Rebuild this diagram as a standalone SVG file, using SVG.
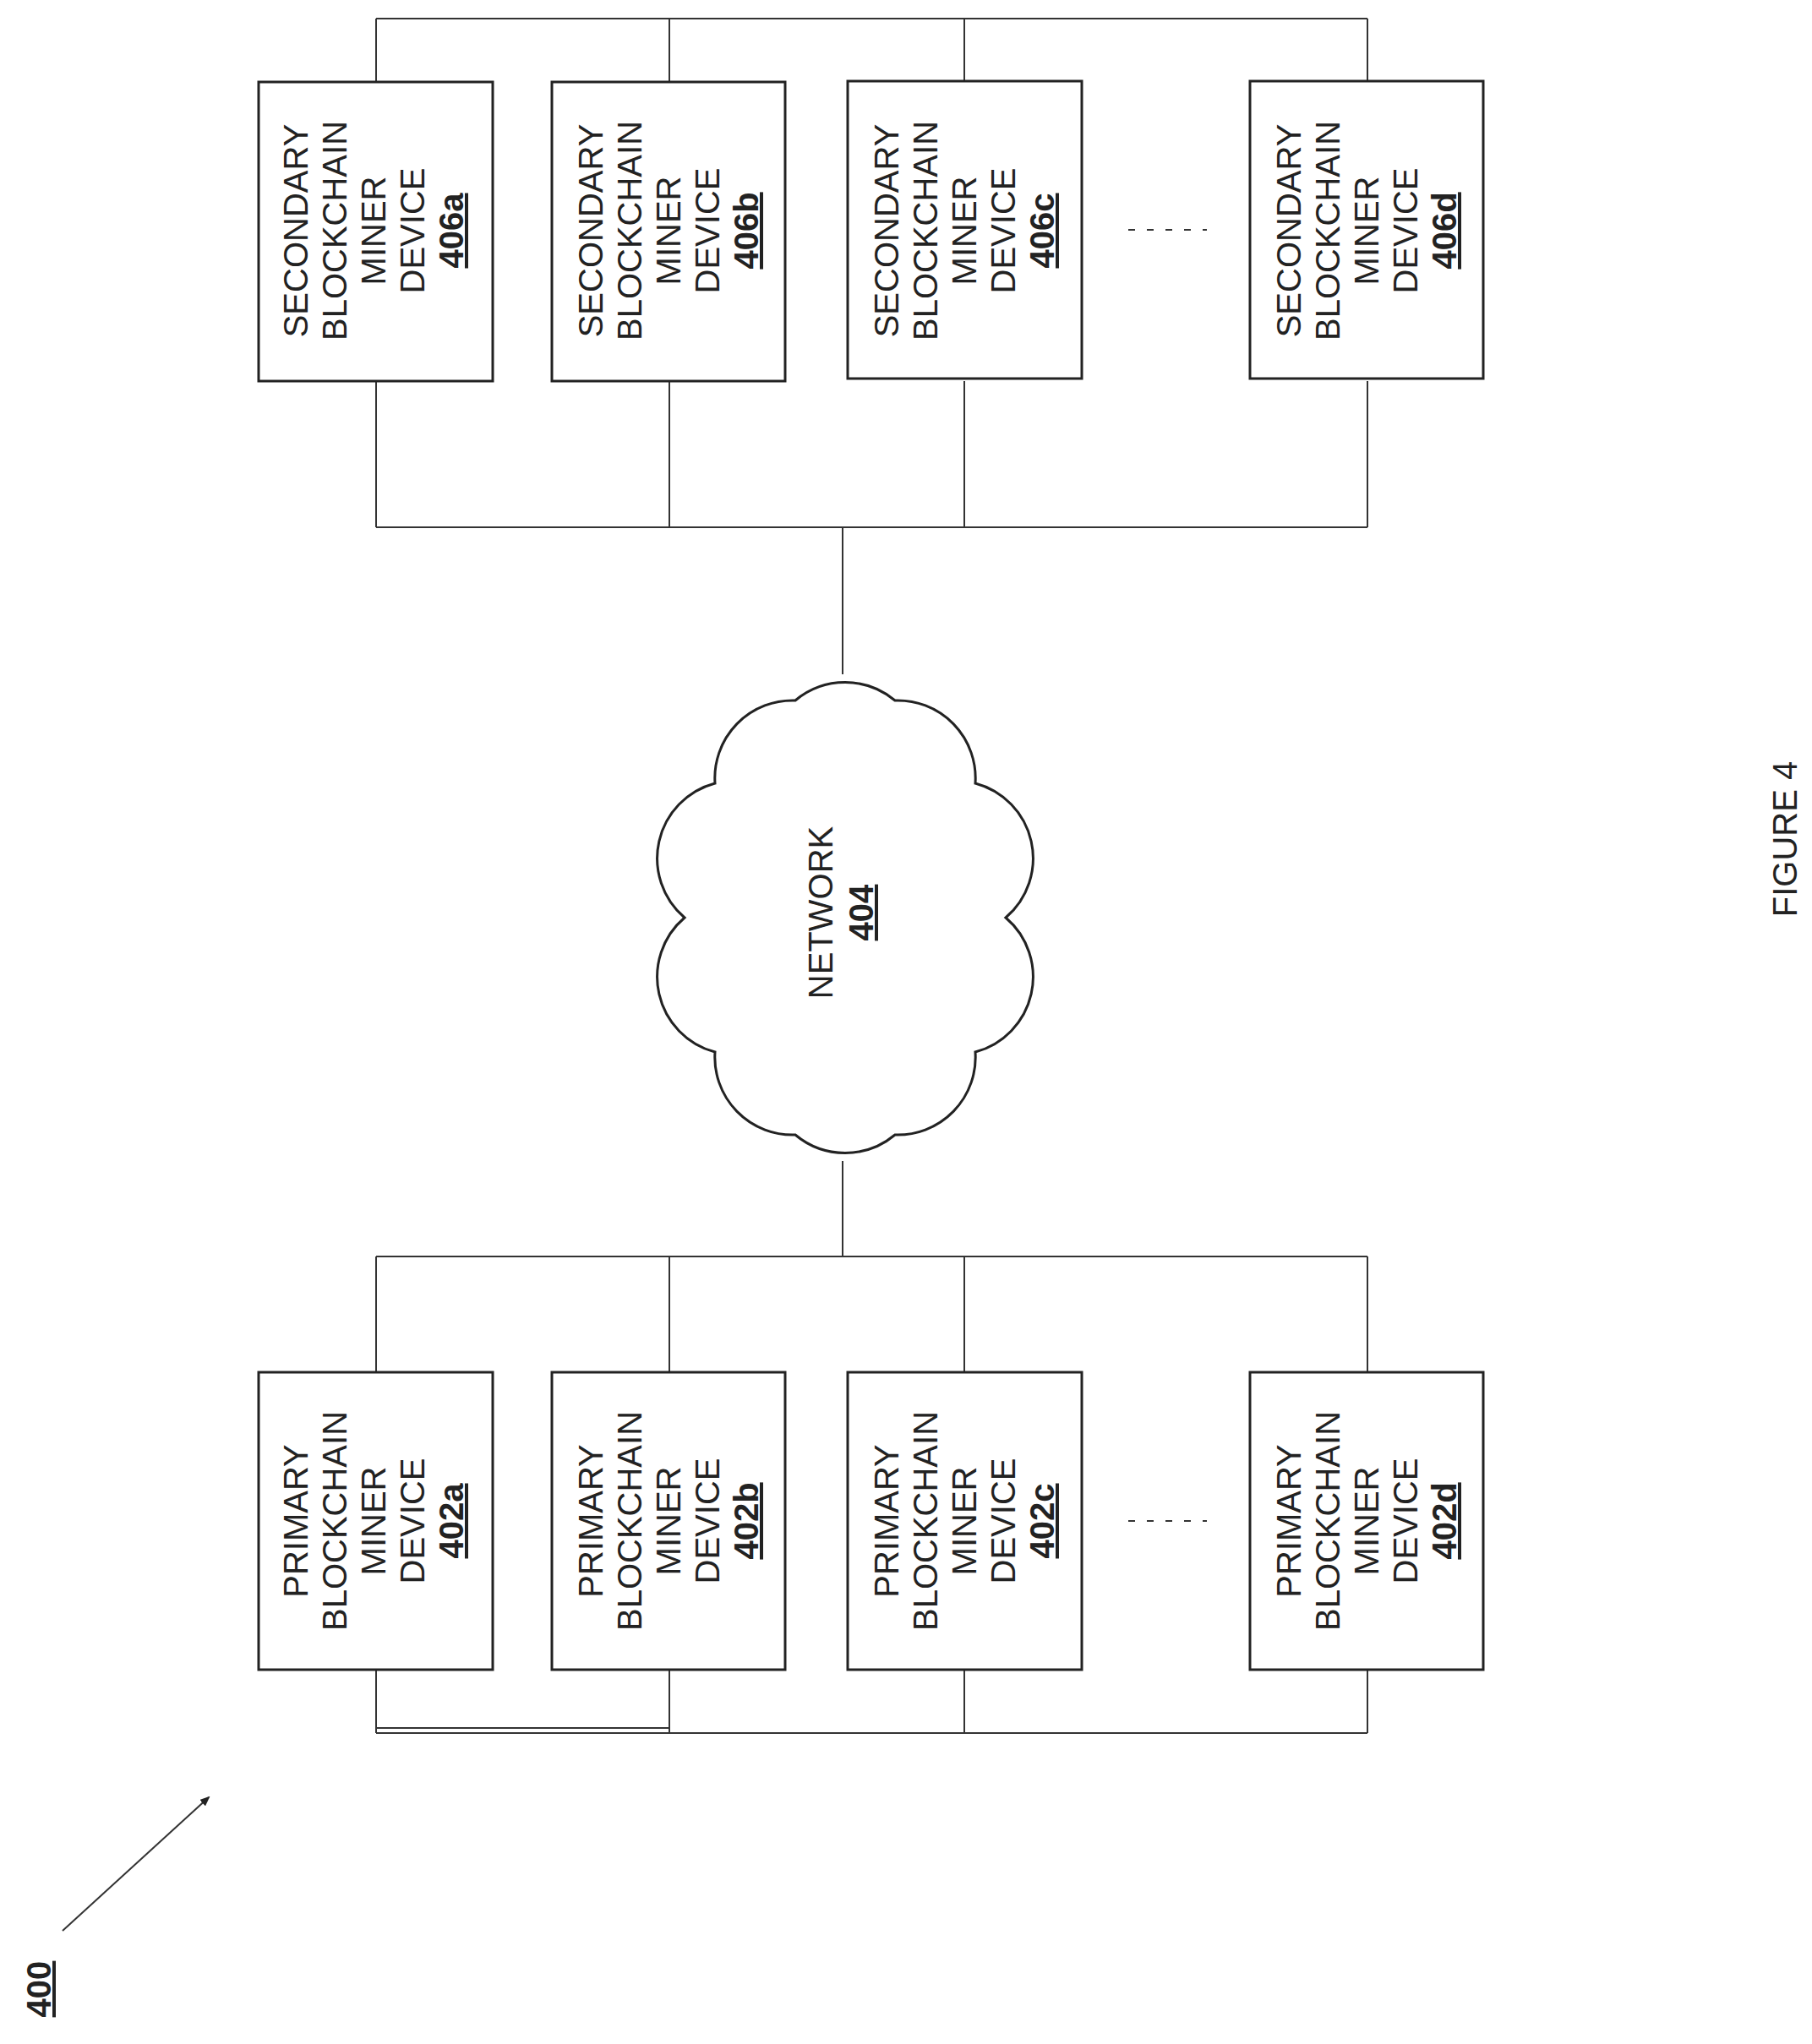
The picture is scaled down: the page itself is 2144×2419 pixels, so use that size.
<svg xmlns="http://www.w3.org/2000/svg" width="2144" height="2419" viewBox="0 0 2144 2419">
<style>
.box{fill:#fff;stroke:#222;stroke-width:3}
.ln{fill:none;stroke:#333;stroke-width:2}
.t{font-family:"Liberation Sans",Arial,sans-serif;font-size:40px;fill:#222;text-anchor:middle}
.r{font-weight:bold;text-decoration:underline}
</style>
<defs><marker id="ah" markerWidth="12" markerHeight="10" refX="10" refY="5" orient="auto" markerUnits="userSpaceOnUse"><path d="M0,0 L12,5 L0,10 z" fill="#222"/></marker></defs>
<rect width="2144" height="2419" fill="#fff"/>
<g id="connectors">
<path class="ln" d="M445,22 H1618 M445,22 V97 M792,22 V97 M1141,22 V97 M1618,22 V97"/>
<path class="ln" d="M445,624 H1618 M445,451 V624 M792,451 V624 M1141,451 V624 M1618,451 V624"/>
<path class="ln" d="M997,624 V798 M997,1374 V1487"/>
<path class="ln" d="M445,1487 H1618 M445,1487 V1624 M792,1487 V1624 M1141,1487 V1624 M1618,1487 V1624"/>
<path class="ln" d="M445,2051 H1618 M445,2045 H792 M445,1976 V2051 M792,1976 V2051 M1141,1976 V2051 M1618,1976 V2051"/>
<path class="ln" d="M1335,272 H1428 M1335,1800 H1428" stroke-dasharray="8 14"/>
<path class="ln" d="M74,2285 L247,2127" marker-end="url(#ah)"/>
</g>
<g id="n406a"><rect class="box" x="306" y="97" width="277" height="354"/>
<g class="t" transform="translate(442,273) rotate(-90)"><text y="-78">SECONDARY</text><text y="-32">BLOCKCHAIN</text><text y="14">MINER</text><text y="60">DEVICE</text><text class="r" y="106">406a</text></g></g>
<g id="n406b"><rect class="box" x="653" y="97" width="276" height="354"/>
<g class="t" transform="translate(791,273) rotate(-90)"><text y="-78">SECONDARY</text><text y="-32">BLOCKCHAIN</text><text y="14">MINER</text><text y="60">DEVICE</text><text class="r" y="106">406b</text></g></g>
<g id="n406c"><rect class="box" x="1003" y="96" width="277" height="352"/>
<g class="t" transform="translate(1141,273) rotate(-90)"><text y="-78">SECONDARY</text><text y="-32">BLOCKCHAIN</text><text y="14">MINER</text><text y="60">DEVICE</text><text class="r" y="106">406c</text></g></g>
<g id="n406d"><rect class="box" x="1479" y="96" width="276" height="352"/>
<g class="t" transform="translate(1617,273) rotate(-90)"><text y="-78">SECONDARY</text><text y="-32">BLOCKCHAIN</text><text y="14">MINER</text><text y="60">DEVICE</text><text class="r" y="106">406d</text></g></g>
<g id="n402a"><rect class="box" x="306" y="1624" width="277" height="352"/>
<g class="t" transform="translate(442,1800) rotate(-90)"><text y="-78">PRIMARY</text><text y="-32">BLOCKCHAIN</text><text y="14">MINER</text><text y="60">DEVICE</text><text class="r" y="106">402a</text></g></g>
<g id="n402b"><rect class="box" x="653" y="1624" width="276" height="352"/>
<g class="t" transform="translate(791,1800) rotate(-90)"><text y="-78">PRIMARY</text><text y="-32">BLOCKCHAIN</text><text y="14">MINER</text><text y="60">DEVICE</text><text class="r" y="106">402b</text></g></g>
<g id="n402c"><rect class="box" x="1003" y="1624" width="277" height="352"/>
<g class="t" transform="translate(1141,1800) rotate(-90)"><text y="-78">PRIMARY</text><text y="-32">BLOCKCHAIN</text><text y="14">MINER</text><text y="60">DEVICE</text><text class="r" y="106">402c</text></g></g>
<g id="n402d"><rect class="box" x="1479" y="1624" width="276" height="352"/>
<g class="t" transform="translate(1617,1800) rotate(-90)"><text y="-78">PRIMARY</text><text y="-32">BLOCKCHAIN</text><text y="14">MINER</text><text y="60">DEVICE</text><text class="r" y="106">402d</text></g></g>
<g id="n404">
<path class="box" stroke-width="2.5" d="M1190,1086 A92,92 0 0 1 1154,1245 A92,92 0 0 1 1059,1343 A92,92 0 0 1 941,1343 A92,92 0 0 1 846,1245 A92,92 0 0 1 810,1086 A92,92 0 0 1 846,927 A92,92 0 0 1 941,829 A92,92 0 0 1 1059,829 A92,92 0 0 1 1154,927 A92,92 0 0 1 1190,1086 Z"/>
<g class="t" transform="translate(997,1080) rotate(-90)"><text y="-12">NETWORK</text><text class="r" y="36">404</text></g></g>
<g id="fig" class="t" transform="translate(2126,993) rotate(-90)"><text>FIGURE 4</text></g>
<g id="lbl400" class="t" transform="translate(60,2354) rotate(-90)"><text class="r">400</text></g>
</svg>
